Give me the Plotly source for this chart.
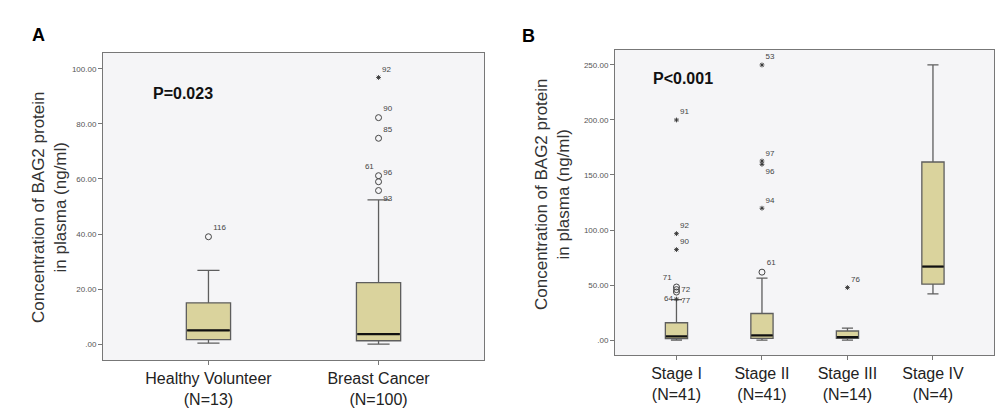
import plotly.graph_objects as go

W, H = 1007, 419

# ---------------- Data: panel A ----------------
groups_a = ["Healthy Volunteer<br>(N=13)", "Breast Cancer<br>(N=100)"]
lower_a = [0.3, 0.0]
q1_a = [1.6, 1.2]
med_a = [5.0, 3.6]
q3_a = [15.0, 22.3]
upper_a = [26.8, 52.4]
# outliers (group index, value, case label)
circ_a_grp = [0, 1, 1, 1, 1, 1]
circ_a_val = [39.0, 55.8, 59.0, 61.2, 74.8, 82.3]
circ_a_lab = ["116", "93", "96", "61", "85", "90"]
circ_a_pos = ["top right", "bottom right", "top right", "top left", "top right", "top right"]
star_a_grp = [1]
star_a_val = [96.9]
star_a_lab = ["92"]
star_a_pos = ["top right"]

# ---------------- Data: panel B ----------------
groups_b = ["Stage I<br>(N=41)", "Stage II<br>(N=41)", "Stage III<br>(N=14)", "Stage IV<br>(N=4)"]
lower_b = [0.0, 0.0, 0.0, 42.0]
q1_b = [1.2, 1.5, 1.5, 50.8]
med_b = [3.3, 4.2, 2.7, 66.8]
q3_b = [15.7, 24.1, 8.2, 161.8]
upper_b = [36.8, 56.3, 10.9, 250.0]
circ_b_grp = [0, 0, 0, 1]
circ_b_val = [48.2, 45.8, 43.6, 61.7]
circ_b_lab = ["71", "72", "77", "61"]
circ_b_pos = ["top left", "middle right", "bottom right", "top right"]
star_b_grp = [0, 0, 0, 0, 1, 1, 1, 1, 2]
star_b_val = [37.2, 82.2, 96.7, 200.0, 119.8, 159.7, 162.7, 250.0, 47.7]
star_b_lab = ["64", "90", "92", "91", "94", "96", "97", "53", "76"]
star_b_pos = ["middle left", "top right", "top right", "top right", "top right",
              "bottom right", "top right", "top right", "top right"]

yticks_a = [0, 20, 40, 60, 80, 100]
yticks_b = [0, 50, 100, 150, 200, 250]

# ---------------- Styling ----------------
BOX_FILL = "#DAD39D"
BOX_LINE = "#5E5E5E"
BG = "#F5F5F7"
BOX_W = 0.26
FAM = "Arial, Liberation Sans, sans-serif"
LBL_FONT = dict(family=FAM, size=8, color="#444444")

fig = go.Figure()


def add_panel(xa, ya, groups, lo, q1, med, q3, up,
              cg, cv, cl, cp, sg, sv, sl, sp):
    pos = list(range(len(groups)))
    fig.add_trace(go.Box(
        x=pos, lowerfence=lo, q1=q1, median=med, q3=q3, upperfence=up,
        width=BOX_W, whiskerwidth=0.5, fillcolor=BOX_FILL,
        line=dict(color=BOX_LINE, width=1.3), boxpoints=False,
        xaxis=xa, yaxis=ya, showlegend=False, hoverinfo="skip"))
    # thicker black median lines
    mx, my = [], []
    for i, m in zip(pos, med):
        mx += [i - BOX_W / 2 + 0.005, i + BOX_W / 2 - 0.005, None]
        my += [m, m, None]
    fig.add_trace(go.Scatter(x=mx, y=my, mode="lines",
                             line=dict(color="#111111", width=2.2),
                             xaxis=xa, yaxis=ya, showlegend=False, hoverinfo="skip"))
    # circle outliers
    fig.add_trace(go.Scatter(
        x=cg, y=cv, mode="markers+text", text=cl, textposition=cp,
        textfont=LBL_FONT,
        marker=dict(symbol="circle-open", size=6, color="#444444", line=dict(width=1)),
        xaxis=xa, yaxis=ya, showlegend=False, hoverinfo="skip"))
    # extreme (star) outliers
    fig.add_trace(go.Scatter(
        x=sg, y=sv, mode="markers+text", text=sl, textposition=sp,
        textfont=LBL_FONT,
        marker=dict(symbol="asterisk-open", size=4, color="#333333",
                    line=dict(width=0.9, color="#333333")),
        xaxis=xa, yaxis=ya, showlegend=False, hoverinfo="skip"))


add_panel("x", "y", groups_a, lower_a, q1_a, med_a, q3_a, upper_a,
          circ_a_grp, circ_a_val, circ_a_lab, circ_a_pos,
          star_a_grp, star_a_val, star_a_lab, star_a_pos)
add_panel("x2", "y2", groups_b, lower_b, q1_b, med_b, q3_b, upper_b,
          circ_b_grp, circ_b_val, circ_b_lab, circ_b_pos,
          star_b_grp, star_b_val, star_b_lab, star_b_pos)


def fmt(v):
    return ".00" if v == 0 else f"{v:.2f}"


axis_common = dict(showgrid=False, zeroline=False, showline=True, mirror=True,
                   linecolor="#777777", linewidth=1, ticks="outside",
                   tickcolor="#777777", ticklen=4)
xfont = dict(family=FAM, size=16, color="#222222")
yfont = dict(family=FAM, size=8, color="#555555")

fig.update_layout(
    width=W, height=H, margin=dict(l=0, r=0, t=0, b=0),
    paper_bgcolor="white", plot_bgcolor=BG,
    xaxis=dict(domain=[95 / W, 476 / W], range=[-0.62, 1.62],
               tickvals=list(range(len(groups_a))), ticktext=groups_a,
               tickfont=xfont, anchor="y", **axis_common),
    yaxis=dict(domain=[1 - 352 / H, 1 - 45 / H], range=[-5.8, 105.8],
               tickvals=yticks_a, ticktext=[fmt(v) for v in yticks_a],
               tickfont=yfont, anchor="x", **axis_common),
    xaxis2=dict(domain=[607 / W, 986 / W], range=[-0.719, 3.714],
                tickvals=list(range(len(groups_b))), ticktext=groups_b,
                tickfont=xfont, anchor="y2", **axis_common),
    yaxis2=dict(domain=[1 - 347 / H, 1 - 42 / H], range=[-13.6, 263.6],
                tickvals=yticks_b, ticktext=[fmt(v) for v in yticks_b],
                tickfont=yfont, anchor="x2", **axis_common),
)

ytitle = "Concentration of BAG2 protein<br>in plasma (ng/ml)"
tfont = dict(family=FAM, size=17, color="#333333")
annots = [
    dict(text=ytitle, x=41 / W, y=1 - 199 / H, textangle=-90, font=tfont),
    dict(text=ytitle, x=544 / W, y=1 - 186 / H, textangle=-90, font=tfont),
    dict(text="<b>P=0.023</b>", x=175 / W, y=1 - 85 / H,
         font=dict(family=FAM, size=16, color="#111111")),
    dict(text="<b>P<0.001</b>", x=675 / W, y=1 - 70 / H,
         font=dict(family=FAM, size=16, color="#111111")),
    dict(text="<b>A</b>", x=30 / W, y=1 - 27 / H,
         font=dict(family=FAM, size=18, color="#000000")),
    dict(text="<b>B</b>", x=520 / W, y=1 - 28 / H,
         font=dict(family=FAM, size=18, color="#000000")),
]
for a in annots:
    fig.add_annotation(xref="paper", yref="paper", showarrow=False,
                       xanchor="center", yanchor="middle", **a)

fig.write_html("out.html")
